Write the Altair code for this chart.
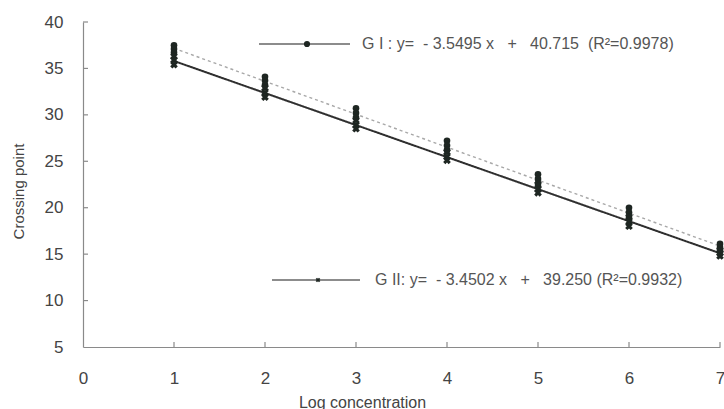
import altair as alt
import pandas as pd

# Replicate crossing points per log concentration
log_conc = [1, 2, 3, 4, 5, 6, 7]
g1_reps = [
    [37.5, 37.1, 36.7],
    [34.1, 33.7, 33.2],
    [30.7, 30.2, 29.7],
    [27.2, 26.7, 26.2],
    [23.6, 23.1, 22.6],
    [20.0, 19.5, 19.0],
    [16.1, 15.7, 15.4],
]
g2_reps = [
    [36.3, 35.9, 35.4],
    [32.9, 32.4, 31.9],
    [29.4, 28.9, 28.5],
    [26.0, 25.5, 25.1],
    [22.5, 22.0, 21.6],
    [19.0, 18.5, 18.0],
    [15.4, 15.1, 14.8],
]

# Standard curve fits
groups = ["G I", "G II"]
slopes = [-3.5495, -3.4502]
intercepts = [40.715, 39.250]
r2 = [0.9978, 0.9932]

x_ticks = [1, 2, 3, 4, 5, 6, 7]
y_ticks = [10, 15, 20, 25, 30, 35, 40]

FONT = "Liberation Sans"
TXT = "#444444"
AXIS = "#8a8a8a"
NB = "\u00a0"

pts = pd.DataFrame(
    [{"x": x, "y": v, "g": "G I"} for x, reps in zip(log_conc, g1_reps) for v in reps]
    + [{"x": x, "y": v, "g": "G II"} for x, reps in zip(log_conc, g2_reps) for v in reps]
)

fit = pd.DataFrame(
    [
        {"g": g, "x": x, "y": s * x + b}
        for g, s, b in zip(groups, slopes, intercepts)
        for x in (log_conc[0], log_conc[-1])
    ]
)

xs = alt.Scale(domain=[0, 7], nice=False, zero=False)
ys = alt.Scale(domain=[5, 40], nice=False, zero=False)

xaxis = alt.Axis(
    values=list(range(0, 8)), format="d", ticks=False, tickSize=0, grid=False,
    domainColor=AXIS, domainWidth=1.2, labelFont=FONT, labelFontSize=17,
    labelColor=TXT, labelPadding=23, title="Log concentration", titleFont=FONT,
    titleFontSize=16, titleFontWeight="normal", titleColor=TXT,
    titleX=279, titleY=55, titleAlign="center", titleBaseline="middle",
    labelFlush=False,
)
yaxis = alt.Axis(
    values=[5] + y_ticks, ticks=False, tickSize=0, grid=False,
    domainColor=AXIS, domainWidth=1.2, labelFont=FONT, labelFontSize=17,
    labelColor=TXT, labelPadding=20, title="Crossing point", titleFont=FONT,
    titleFontSize=15, titleFontWeight="normal", titleColor=TXT,
    titleX=-65, titleY=169, titleAngle=270, titleAlign="center",
    titleBaseline="middle",
)

base = alt.Chart(pts)

axes = base.mark_point(opacity=0).encode(
    x=alt.X("x:Q", scale=xs, axis=xaxis),
    y=alt.Y("y:Q", scale=ys, axis=yaxis),
)

# Inward tick marks
xt = alt.Chart(pd.DataFrame({"t": x_ticks})).mark_rule(color=AXIS, strokeWidth=1.2).encode(
    x=alt.X("t:Q", scale=xs), y=alt.value(325), y2=alt.value(320)
)
yt = alt.Chart(pd.DataFrame({"t": y_ticks})).mark_rule(color=AXIS, strokeWidth=1.2).encode(
    y=alt.Y("t:Q", scale=ys), x=alt.value(0), x2=alt.value(5)
)

fit_lines = alt.Chart(fit).mark_line(clip=True).encode(
    x=alt.X("x:Q", scale=xs),
    y=alt.Y("y:Q", scale=ys),
    detail="g:N",
    color=alt.Color("g:N", scale=alt.Scale(domain=groups, range=["#a8a8a8", "#2f2f2f"]), legend=None),
    strokeDash=alt.StrokeDash("g:N", scale=alt.Scale(domain=groups, range=[[3, 3], [1, 0]]), legend=None),
    strokeWidth=alt.StrokeWidth("g:N", scale=alt.Scale(domain=groups, range=[1.4, 2]), legend=None),
)

g1_pts = base.transform_filter(alt.datum.g == "G I").mark_point(
    shape="circle", filled=True, size=44, color="#1e2622", opacity=1
).encode(x=alt.X("x:Q", scale=xs), y=alt.Y("y:Q", scale=ys))

g2_pts = base.transform_filter(alt.datum.g == "G II").mark_point(
    shape="cross", angle=45, filled=True, size=60, color="#1e2622", opacity=1
).encode(x=alt.X("x:Q", scale=xs), y=alt.Y("y:Q", scale=ys))

# Equation key
def eq_label(g, s, b, r):
    sep = NB * 3
    gap = "" if g == "G II" else NB
    return (
        f"{g}{'' if g == 'G II' else NB}:{NB}y={NB}{NB}-{NB}{abs(s):.4f}{NB}x{sep}+{sep}"
        f"{b:.3f}{gap}{NB}(R\u00b2={r:.4f})"
    )

key = pd.DataFrame(
    {
        "label": [eq_label(g, s, b, r) for g, s, b, r in zip(groups, slopes, intercepts, r2)],
        "g": groups,
        "lx1": [176, 189],
        "lx2": [267, 277],
        "mx": [224, 235],
        "ty": [22, 258],
        "tx": [279, 292],
    }
)
kb = alt.Chart(key)
key_lines = kb.mark_rule(color="#666666", strokeWidth=1.3).encode(
    x=alt.X("lx1:Q", scale=None), x2="lx2:Q", y=alt.Y("ty:Q", scale=None)
)
key_m1 = kb.transform_filter(alt.datum.g == "G I").mark_point(
    shape="circle", filled=True, size=38, color="#1e2622", opacity=1
).encode(x=alt.X("mx:Q", scale=None), y=alt.Y("ty:Q", scale=None))
key_m2 = kb.transform_filter(alt.datum.g == "G II").mark_point(
    shape="cross", angle=45, filled=True, size=22, color="#1e2622", opacity=1
).encode(x=alt.X("mx:Q", scale=None), y=alt.Y("ty:Q", scale=None))
key_txt = kb.mark_text(
    align="left", baseline="middle", font=FONT, fontSize=16, color="#555555"
).encode(x=alt.X("tx:Q", scale=None), y=alt.Y("ty:Q", scale=None), text="label:N")

chart = (
    alt.layer(axes, xt, yt, fit_lines, g1_pts, g2_pts, key_lines, key_m1, key_m2, key_txt)
    .properties(
        width=637,
        height=325,
        autosize=alt.AutoSizeParams(type="none"),
        padding={"left": 83, "top": 22, "right": 4, "bottom": 62},
        background="white",
    )
    .configure_view(stroke=None)
)

chart.save("out.html", embed_options={"renderer": "svg", "actions": False})
